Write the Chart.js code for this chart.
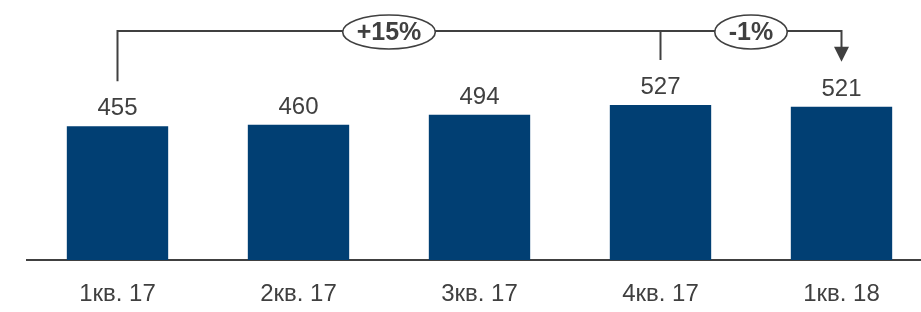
<!DOCTYPE html>
<html>
<head>
<meta charset="utf-8">
<script src="https://cdn.jsdelivr.net/npm/chart.js@4/dist/chart.umd.min.js"></script>
<style>
  html, body { margin: 0; padding: 0; overflow: hidden; background: #ffffff; }
  #wrap { width: 932px; height: 312px; position: relative; }
</style>
</head>
<body>
<div id="wrap"><canvas id="c"></canvas></div>
<script>
const categories = ['1кв. 17', '2кв. 17', '3кв. 17', '4кв. 17', '1кв. 18'];
const values = [455, 460, 494, 527, 521];
const changeLabels = ['+15%', '-1%'];
// bracket pairs: [from index, to index]
const changePairs = [[0, 3], [3, 4]];

const FONT = '"Liberation Sans", Arial, sans-serif';
const TEXT = '#404040';
const BAR = '#013f73';

const valueLabels = {
  id: 'valueLabels',
  afterDatasetsDraw(chart) {
    const ctx = chart.ctx;
    const meta = chart.getDatasetMeta(0);
    ctx.save();
    ctx.font = '24px ' + FONT;
    ctx.fillStyle = TEXT;
    ctx.textAlign = 'center';
    ctx.textBaseline = 'alphabetic';
    meta.data.forEach((bar, i) => {
      ctx.fillText(String(values[i]), bar.x, bar.y - 11);
    });
    ctx.restore();
  }
};

const brackets = {
  id: 'brackets',
  afterDraw(chart) {
    const ctx = chart.ctx;
    const xs = chart.scales.x;
    const ys = chart.scales.y;
    const maxTop = ys.getPixelForValue(Math.max(...values));
    const lineY = maxTop - 74;
    const xAt = i => xs.getPixelForValue(i);
    const startY = i => ys.getPixelForValue(values[i]) - 45;

    ctx.save();
    ctx.strokeStyle = TEXT;
    ctx.fillStyle = TEXT;
    ctx.lineWidth = 2;

    const first = changePairs[0][0];
    const last = changePairs[changePairs.length - 1][1];

    ctx.beginPath();
    ctx.moveTo(xAt(first), startY(first));
    ctx.lineTo(xAt(first), lineY);
    ctx.lineTo(xAt(last), lineY);
    ctx.lineTo(xAt(last), startY(last) - 14);
    ctx.stroke();

    changePairs.slice(0, -1).forEach(p => {
      const xi = xAt(p[1]);
      ctx.beginPath();
      ctx.moveTo(xi, lineY);
      ctx.lineTo(xi, startY(p[1]));
      ctx.stroke();
    });

    const tipY = startY(last);
    const ax = xAt(last);
    ctx.beginPath();
    ctx.moveTo(ax - 7.5, tipY - 15);
    ctx.lineTo(ax + 7.5, tipY - 15);
    ctx.lineTo(ax, tipY);
    ctx.closePath();
    ctx.fill();

    ctx.font = 'bold 25px ' + FONT;
    ctx.textAlign = 'center';
    ctx.textBaseline = 'middle';
    changePairs.forEach((p, k) => {
      const cx = (xAt(p[0]) + xAt(p[1])) / 2;
      const tw = ctx.measureText(changeLabels[k]).width;
      const rx = tw / 2 + 14;
      const ry = 17;
      ctx.beginPath();
      ctx.ellipse(cx, lineY + 1, rx, ry, 0, 0, Math.PI * 2);
      ctx.fillStyle = '#ffffff';
      ctx.fill();
      ctx.lineWidth = 1.6;
      ctx.strokeStyle = TEXT;
      ctx.stroke();
      ctx.fillStyle = TEXT;
      ctx.fillText(changeLabels[k], cx, lineY + 2);
    });
    ctx.restore();
  }
};

new Chart(document.getElementById('c'), {
  type: 'bar',
  data: {
    labels: categories,
    datasets: [{
      data: values,
      backgroundColor: BAR,
      borderWidth: 0,
      categoryPercentage: 1,
      barPercentage: 0.56
    }]
  },
  options: {
    responsive: true,
    maintainAspectRatio: false,
    animation: false,
    layout: { padding: { left: 27, right: 0, top: 0, bottom: 0 } },
    plugins: { legend: { display: false }, tooltip: { enabled: false } },
    scales: {
      x: {
        grid: { display: false, drawTicks: false },
        border: { display: true, color: TEXT, width: 2 },
        ticks: { color: TEXT, font: { family: FONT, size: 24 }, padding: 20, maxRotation: 0 },
        afterFit(scale) { scale.height = 52; }
      },
      y: {
        display: false,
        min: 0,
        max: 884
      }
    }
  },
  plugins: [valueLabels, brackets]
});
</script>
</body>
</html>
